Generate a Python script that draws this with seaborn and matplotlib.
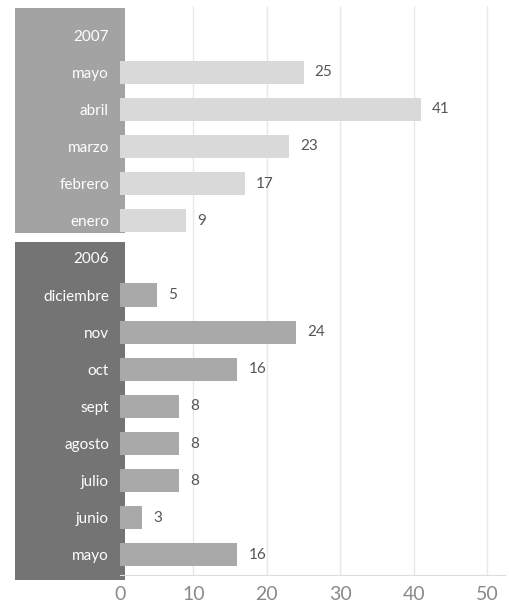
import matplotlib
matplotlib.use("Agg")
import matplotlib.pyplot as plt
import matplotlib.transforms as mtransforms
from matplotlib.patches import Rectangle
import seaborn as sns
import pandas as pd
import numpy as np

# ---- data ----
meses_2007 = ["mayo", "abril", "marzo", "febrero", "enero"]
valores_2007 = [25, 41, 23, 17, 9]
meses_2006 = ["diciembre", "nov", "oct", "sept", "agosto", "julio", "junio", "mayo"]
valores_2006 = [5, 24, 16, 8, 8, 8, 3, 16]
anios = ["2007", "2006"]
xticks = [0, 10, 20, 30, 40, 50]

# ---- build table (header rows carry no value) ----
rows = []
rows.append(dict(clave="h2007", etiqueta="2007", valor=np.nan, anio="2007"))
for m, v in zip(meses_2007, valores_2007):
    rows.append(dict(clave=f"{m} 2007", etiqueta=m, valor=v, anio="2007"))
rows.append(dict(clave="h2006", etiqueta="2006", valor=np.nan, anio="2006"))
for m, v in zip(meses_2006, valores_2006):
    rows.append(dict(clave=f"{m} 2006", etiqueta=m, valor=v, anio="2006"))
df = pd.DataFrame(rows)
orden = list(df["clave"])

sns.set_style("white")
plt.rcParams["font.family"] = ["Lato", "DejaVu Sans"]

W, H = 509, 614
fig = plt.figure(figsize=(W / 100, H / 100), dpi=100)
ax_left, ax_right, ax_top, ax_bottom = 120, 505, 6, 575
ax = fig.add_axes([ax_left / W, 1 - ax_bottom / H, (ax_right - ax_left) / W, (ax_bottom - ax_top) / H])

bar_colors = {"2007": "#d9d9d9", "2006": "#a9a9a9"}
panel_colors = {"2007": "#a3a3a3", "2006": "#747474"}

sns.barplot(data=df.dropna(subset=["valor"]), x="valor", y="clave", hue="anio",
            order=orden, hue_order=anios, palette=bar_colors, dodge=False,
            orient="h", width=0.62, legend=False, ax=ax, zorder=3, saturation=1,
            linewidth=0)

ax.set_xlim(0, 50 * (ax_right - ax_left) / (487 - ax_left))
ax.set_ylim(14 + 20 / 37.1, -(35 - ax_top) / 37.1)

# value labels
for cont in ax.containers:
    ax.bar_label(cont, fmt="%d", padding=8, color="#555555", fontsize=11)

# grid
ax.set_xticks(xticks)
ax.xaxis.grid(True, color="#e8e8e8", linewidth=1)
ax.set_axisbelow(True)
ax.xaxis.get_gridlines()[0].set_visible(False)
for s in ["top", "right", "left"]:
    ax.spines[s].set_visible(False)
ax.spines["bottom"].set_color("#dddddd")
ax.tick_params(axis="x", length=0, labelsize=14, labelcolor="#8a8a8a", pad=8)
ax.set_xlabel("")
ax.set_ylabel("")

# y labels (white on panels)
ax.set_yticks(range(len(orden)))
ax.set_yticklabels(list(df["etiqueta"]), color="white", fontsize=11)
ax.tick_params(axis="y", length=0, pad=8)

# side panels (drawn beneath the tick labels)
trans = mtransforms.blended_transform_factory(fig.transFigure, ax.transData)
px0 = 15 / W
pw = (125 - 15) / W
ax.add_patch(Rectangle((px0, -(35 - 8) / 37.1), pw, 5 + (232 - 220) / 37.1 + (35 - 8) / 37.1,
                       transform=trans, facecolor=panel_colors["2007"], edgecolor="none",
                       clip_on=False, zorder=0.1))
ax.add_patch(Rectangle((px0, 6 - (256 - 240) / 37.1), pw, 8 + (580 - 555) / 37.1 + (256 - 240) / 37.1,
                       transform=trans, facecolor=panel_colors["2006"], edgecolor="none",
                       clip_on=False, zorder=0.1))

fig.savefig("out.png", dpi=100)
